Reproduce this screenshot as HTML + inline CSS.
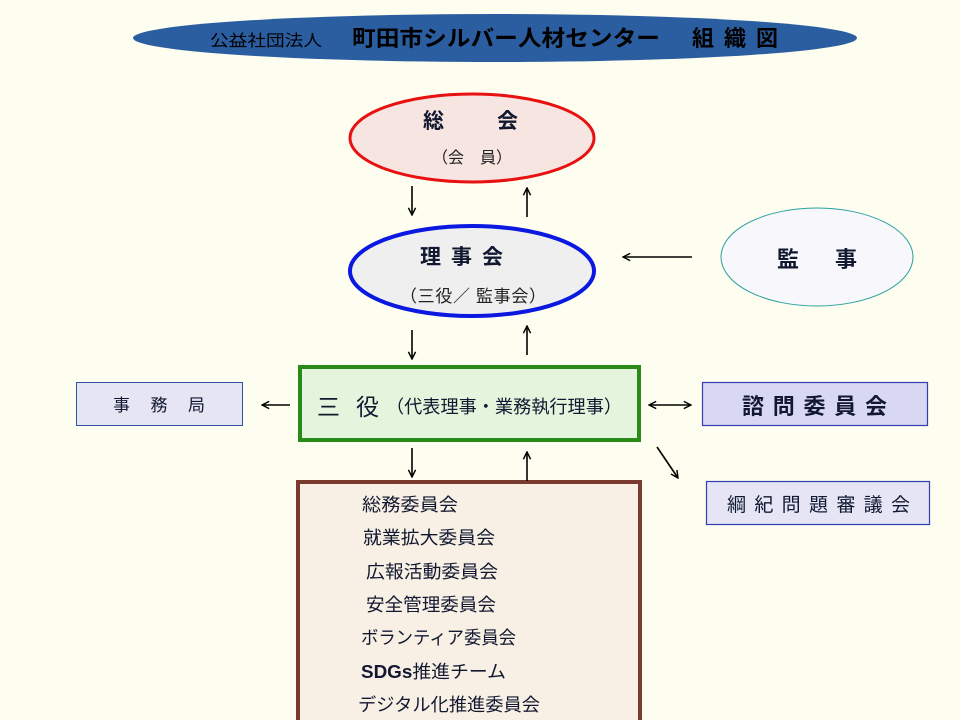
<!DOCTYPE html>
<html><head><meta charset="utf-8"><style>
html,body{margin:0;padding:0;background:#fdfdf0;}
svg{display:block;font-family:"Liberation Sans","Noto Sans CJK JP",sans-serif;}
</style></head><body>
<svg width="960" height="720" viewBox="0 0 960 720" xmlns="http://www.w3.org/2000/svg">
<defs>
<marker id="a" viewBox="0 0 10 10" refX="9" refY="5" markerWidth="9" markerHeight="9" orient="auto" markerUnits="userSpaceOnUse">
<path d="M1,1 L9,5 L1,9" fill="none" stroke="#000" stroke-width="1.6"/></marker>
<marker id="b" viewBox="0 0 10 10" refX="1" refY="5" markerWidth="9" markerHeight="9" orient="auto" markerUnits="userSpaceOnUse">
<path d="M9,1 L1,5 L9,9" fill="none" stroke="#000" stroke-width="1.6"/></marker>
</defs>
<rect width="960" height="720" fill="#fdfdf0"/>
<ellipse cx="495" cy="38" rx="362" ry="24" fill="#2b5ea0"/>
<text x="210" y="46" font-size="16" fill="#000" textLength="112" lengthAdjust="spacingAndGlyphs">公益社団法人</text>
<text x="352" y="46" font-size="22" font-weight="bold" fill="#000" textLength="308" lengthAdjust="spacingAndGlyphs">町田市シルバー人材センター</text>
<text x="692" y="46" font-size="22" font-weight="bold" fill="#000" textLength="86" lengthAdjust="spacing">組織図</text>

<ellipse cx="472" cy="138" rx="122" ry="44" fill="#f6e5e0" stroke="#e81010" stroke-width="3"/>
<text x="423" y="128" font-size="21" font-weight="bold" fill="#111830">総</text>
<text x="497" y="128" font-size="21" font-weight="bold" fill="#111830">会</text>
<text x="432" y="163" font-size="16" fill="#222" textLength="80" lengthAdjust="spacing">（会　員）</text>

<ellipse cx="472" cy="271" rx="122" ry="45" fill="#efefef" stroke="#0a18e0" stroke-width="4"/>
<text x="420" y="264" font-size="21" font-weight="bold" fill="#111830" letter-spacing="10">理事会</text>
<text x="400" y="302" font-size="17" fill="#222" textLength="146" lengthAdjust="spacing">（三役／ 監事会）</text>

<ellipse cx="817" cy="257" rx="96" ry="49" fill="#f8f8fc" stroke="#2aa0a0" stroke-width="1"/>
<text x="777" y="267" font-size="22" font-weight="bold" fill="#111830">監</text>
<text x="835" y="267" font-size="22" font-weight="bold" fill="#111830">事</text>

<rect x="300" y="367" width="339" height="73" fill="#e5f4dc" stroke="#2a8a18" stroke-width="4"/>
<text x="317" y="415" font-size="23" fill="#111830" textLength="62" lengthAdjust="spacing">三役</text>
<text x="386" y="413" font-size="18" fill="#111830" textLength="236" lengthAdjust="spacingAndGlyphs">（代表理事・業務執行理事）</text>

<rect x="76.5" y="382.5" width="166" height="43" fill="#e5e5f4" stroke="#3050a0" stroke-width="1"/>
<text x="113" y="411" font-size="17" fill="#111830" textLength="92" lengthAdjust="spacing">事務局</text>
<rect x="702.5" y="382.5" width="225" height="43" fill="#d8d8f2" stroke="#3040b0" stroke-width="1.2"/>
<text x="742" y="414" font-size="22" font-weight="bold" fill="#111830" textLength="145" lengthAdjust="spacing">諮問委員会</text>
<rect x="706.5" y="481.5" width="223" height="43" fill="#e5e5f6" stroke="#3040b0" stroke-width="1.2"/>
<text x="727" y="511" font-size="19" fill="#111830" textLength="183" lengthAdjust="spacing">綱紀問題審議会</text>

<rect x="298" y="482" width="342" height="242" fill="#f8f0e5" stroke="#7a3a30" stroke-width="4"/>
<g font-size="18" fill="#111830">
<text x="362" y="511" textLength="96" lengthAdjust="spacingAndGlyphs">総務委員会</text>
<text x="363" y="544" textLength="132" lengthAdjust="spacingAndGlyphs">就業拡大委員会</text>
<text x="366" y="578" textLength="132" lengthAdjust="spacingAndGlyphs">広報活動委員会</text>
<text x="366" y="611" textLength="130" lengthAdjust="spacingAndGlyphs">安全管理委員会</text>
<text x="361" y="644" textLength="155" lengthAdjust="spacingAndGlyphs">ボランティア委員会</text>
<text x="361" y="678" font-weight="bold" textLength="145" lengthAdjust="spacingAndGlyphs">SDGs<tspan font-weight="normal">推進チーム</tspan></text>
<text x="358" y="711" textLength="182" lengthAdjust="spacingAndGlyphs">デジタル化推進委員会</text>
</g>

<g stroke="#000" stroke-width="1.6" fill="none">
<line x1="412" y1="186" x2="412" y2="215" marker-end="url(#a)"/>
<line x1="527" y1="217" x2="527" y2="188" marker-end="url(#a)"/>
<line x1="692" y1="257" x2="623" y2="257" marker-end="url(#a)"/>
<line x1="412" y1="330" x2="412" y2="359" marker-end="url(#a)"/>
<line x1="527" y1="355" x2="527" y2="326" marker-end="url(#a)"/>
<line x1="290" y1="405" x2="262" y2="405" marker-end="url(#a)"/>
<line x1="649" y1="405" x2="691" y2="405" marker-start="url(#b)" marker-end="url(#a)"/>
<line x1="657" y1="447" x2="678" y2="478" marker-end="url(#a)"/>
<line x1="412" y1="448" x2="412" y2="477" marker-end="url(#a)"/>
<line x1="527" y1="481" x2="527" y2="452" marker-end="url(#a)"/>
</g>
</svg>
</body></html>
